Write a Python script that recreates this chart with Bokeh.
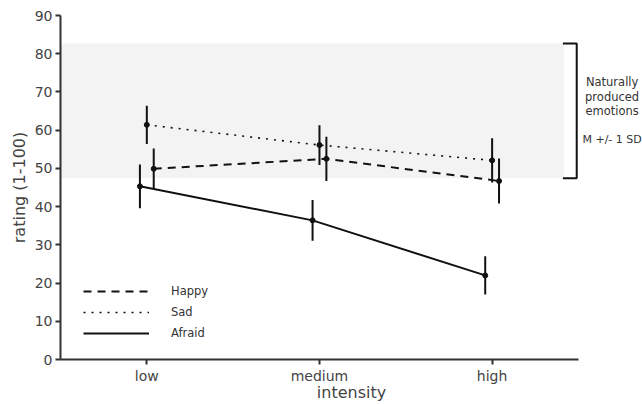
from bokeh.plotting import figure
from bokeh.models import Range1d, FixedTicker, Label, Legend, LegendItem
from bokeh.embed import file_html
from bokeh.resources import INLINE

# ---- data ----
categories = ["low", "medium", "high"]
happy_mean = [49.9, 52.5, 46.7]
happy_err = [5.3, 5.8, 5.9]
sad_mean = [61.4, 56.1, 52.1]
sad_err = [5.0, 5.2, 5.8]
afraid_mean = [45.3, 36.4, 22.0]
afraid_err = [5.7, 5.3, 5.0]
natural_mean = 65.05
natural_sd = 17.65
y_ticks = [0, 10, 20, 30, 40, 50, 60, 70, 80, 90]

FONT = "DejaVu Sans"
INK = "#111111"
TXT = "#444444"

# frame extends to the right edge so the side note can be drawn inside it;
# the x axis line itself is bounded to the category range
p = figure(width=642, height=404, x_range=Range1d(-0.5, 2.871), y_range=Range1d(0, 90),
           output_backend="svg", toolbar_location=None,
           min_border_left=60, min_border_right=0, min_border_top=15, min_border_bottom=45)
p.outline_line_color = None
p.xgrid.grid_line_color = None
p.ygrid.grid_line_color = None
p.background_fill_color = "white"
p.border_fill_color = "white"

# shaded band: natural emotions M +/- 1 SD
band_lo = natural_mean - natural_sd
band_hi = natural_mean + natural_sd
p.quad(left=[-0.5], right=[2.417], bottom=[band_lo], top=[band_hi],
       fill_color="#f3f3f3", line_color=None)
# bracket
p.line(x=[2.41, 2.49, 2.49, 2.41], y=[band_hi, band_hi, band_lo, band_lo],
       line_color=INK, line_width=2)

idx = list(range(len(categories)))
series = [
    ("Happy", happy_mean, happy_err, 0.04, "8 6", 2.0),
    ("Sad", sad_mean, sad_err, 0.0, "2 6", 1.6),
    ("Afraid", afraid_mean, afraid_err, -0.04, "solid", 2.0),
]
items = []
for name, m, e, off, dash, lw in series:
    xs = [i + off for i in idx]
    r = p.line(xs, m, line_color=INK, line_width=lw, line_dash=dash)
    p.segment(x0=xs, y0=[a - b for a, b in zip(m, e)], x1=xs,
              y1=[a + b for a, b in zip(m, e)], line_color=INK, line_width=2)
    p.scatter(xs, m, size=5, color=INK)
    items.append(LegendItem(label=name, renderers=[r]))

legend = Legend(items=items, location=(23, 16), padding=0, margin=0, spacing=1,
                glyph_width=66, glyph_height=20, label_height=20, label_standoff=22,
                label_text_font=FONT, label_text_font_size="11.5px", label_text_color="#333333",
                background_fill_alpha=0, border_line_alpha=0)
p.add_layout(legend, "center")

# right-side annotation text
for txt, yv, fs in [("Naturally", 72.5, "11.5px"), ("produced", 68.6, "11.5px"),
                    ("emotions", 64.9, "11.5px"), ("M +/- 1 SD", 57.6, "11px")]:
    p.add_layout(Label(x=2.695, y=yv, text=txt, text_font=FONT, text_font_size=fs,
                       text_color="#333333", text_align="center", text_baseline="middle"))

# axes
p.xaxis.ticker = FixedTicker(ticks=idx)
p.xaxis.bounds = (-0.5, 2.5)
p.xaxis.major_label_overrides = {i: c for i, c in zip(idx, categories)}
p.yaxis.ticker = FixedTicker(ticks=y_ticks)
for ax in (p.xaxis[0], p.yaxis[0]):
    ax.axis_line_width = 2
    ax.axis_line_color = "#333333"
    ax.major_tick_line_color = "#333333"
    ax.major_tick_line_width = 2
    ax.major_tick_in = 0
    ax.major_tick_out = 5
    ax.minor_tick_line_color = None
    ax.major_label_text_font = FONT
    ax.major_label_text_font_size = "14px"
    ax.major_label_text_color = TXT
    ax.axis_label_text_font = FONT
    ax.axis_label_text_font_size = "16px"
    ax.axis_label_text_font_style = "normal"
    ax.axis_label_text_color = TXT

p.xaxis.axis_label = "intensity"
p.yaxis.axis_label = "rating (1-100)"
p.xaxis.major_label_standoff = 3
p.xaxis.axis_label_standoff = -4
p.yaxis.major_label_standoff = 3
p.yaxis.axis_label_standoff = 3

open("out.html", "w").write(file_html(p, INLINE))
